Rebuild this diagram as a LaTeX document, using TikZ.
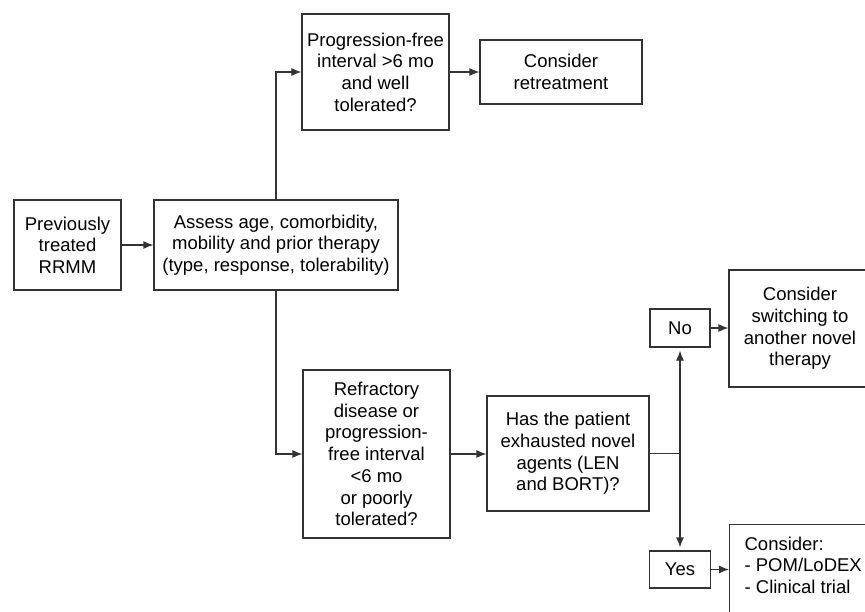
\documentclass[tikz,border=0pt]{standalone}
\usepackage{fontspec}
\setmainfont{Liberation Sans}
\usetikzlibrary{arrows.meta}
\newcommand{\boxfont}{\fontsize{18.5}{21.7}\selectfont}
\tikzset{
	box/.style={draw=black!80, line width=1.2pt, align=center, inner sep=0pt, font=\boxfont},
	flow/.style={draw=black!80, line width=1.2pt, -{Latex[length=10pt,width=8pt]}}
}
\begin{document}
\begin{tikzpicture}[x=1pt,y=-1pt]
		\clip (0,0) rectangle (865,611);
		\node[box, minimum width=107, minimum height=90] (prev) at (67.5,245) {Previously\\treated\\RRMM};
		\node[box, minimum width=244, minimum height=90] (assess) at (276,245) {Assess age, comorbidity,\\mobility and prior therapy\\(type, response, tolerability)};
		\node[box, minimum width=147, minimum height=116] (prog) at (375.5,72) {Progression-free\\interval >6 mo\\and well\\tolerated?};
		\node[box, minimum width=162, minimum height=64] (retreat) at (561,72) {Consider\\retreatment};
		\node[box, minimum width=147, minimum height=168] (refr) at (376.5,454) {Refractory\\disease or\\progression-\\free interval\\<6 mo\\or poorly\\tolerated?};
		\node[box, minimum width=162, minimum height=115] (has) at (568,453.5) {Has the patient\\exhausted novel\\agents (LEN\\and BORT)?};
		\coordinate (split) at (680,453.5);
		\node[box, minimum width=60, minimum height=38] (no) at (680,328) {No};
		\node[box, minimum width=61, minimum height=37] (yes) at (680,569.5) {Yes};
		\node[box, minimum width=142, minimum height=117] (switch) at (800,328.5) {Consider\\switching to\\another novel\\therapy};
		\node[box, anchor=north west, align=left, inner xsep=15pt, inner ysep=12pt] (cons) at (729,524) {\parbox[c][110pt][t]{125pt}{\boxfont\raggedright Consider:\\- POM/LoDEX\\- Clinical trial}};
		\draw[flow] (prev) -- (assess);
		\draw[flow] (assess.north) |- (prog.west);
		\draw[flow] (assess.south) |- (refr.west);
		\draw[flow] (prog) -- (retreat);
		\draw[flow] (refr.east) -- (refr.east -| has.west);
		\draw[draw=black!80, line width=1.2pt] (has.east) -- (split);
		\draw[flow, shorten >=3pt] (split) -- (no.south);
		\draw[flow, shorten >=3pt] (split) -- (yes.north);
		\draw[flow] (no.east) -- (no.east -| switch.west);
		\draw[flow] (yes.east) -- (yes.east -| cons.west);
	\end{tikzpicture}
\end{document}
